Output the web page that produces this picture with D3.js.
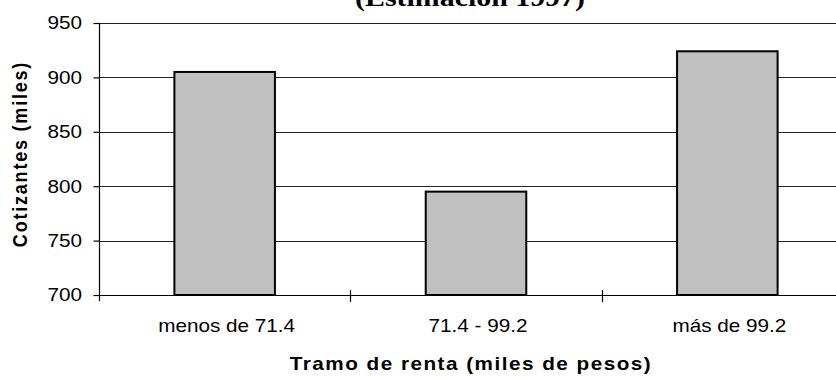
<!DOCTYPE html>
<html>
<head>
<meta charset="utf-8">
<script src="https://cdn.jsdelivr.net/npm/d3@7"></script>
<style>
  html, body { margin: 0; padding: 0; background: #fff; }
  svg { display: block; }
</style>
</head>
<body>
<svg id="chart" width="836" height="377"></svg>
<script>
// Cotizantes por tramo de renta
const categories = ["menos de 71.4", "71.4 - 99.2", "más de 99.2"];
const values = [905, 795, 924];
const yTicks = [700, 750, 800, 850, 900, 950];
const titleText = "(Estimación 1997)";
const yTitle = "Cotizantes (miles)";
const xTitle = "Tramo de renta (miles de pesos)";

const svg = d3.select("#chart");
const W = 836, H = 377;
const plotLeft = 99, plotRight = 853, plotTop = 23, plotBottom = 295;
const stretch = 1.15;

const x = d3.scaleBand().domain(categories).range([plotLeft, plotRight])
  .paddingInner(0.6).paddingOuter(0.3);
const y = d3.scaleLinear().domain([700, 950]).range([plotBottom, plotTop]);
const edges = d3.scaleLinear().domain([0, categories.length]).range([plotLeft, plotRight]);

// horizontal gridlines
svg.append("g")
  .selectAll("line")
  .data(yTicks.slice(1))
  .join("line")
  .attr("x1", plotLeft).attr("x2", W + 20)
  .attr("y1", d => Math.round(y(d)) + 0.5)
  .attr("y2", d => Math.round(y(d)) + 0.5)
  .attr("stroke", "#222")
  .attr("stroke-width", 1.2);

// bars
svg.append("g")
  .selectAll("rect")
  .data(values)
  .join("rect")
  .attr("x", (d, i) => x(categories[i]))
  .attr("width", x.bandwidth())
  .attr("y", d => y(d))
  .attr("height", d => y(700) - y(d))
  .attr("fill", "#c0c0c0")
  .attr("stroke", "#000")
  .attr("stroke-width", 2);

// y axis
const yAxis = svg.append("g")
  .attr("transform", `translate(${plotLeft + 0.5},0)`)
  .call(d3.axisLeft(y).tickValues(yTicks).tickSize(6).tickFormat(d3.format("d")));
yAxis.select(".domain").remove();
yAxis.selectAll(".tick line").attr("stroke", "#000").attr("stroke-width", 1.2);
yAxis.selectAll(".tick text").remove();
yAxis.append("line")
  .attr("x1", 0).attr("x2", 0).attr("y1", plotTop).attr("y2", plotBottom + 6)
  .attr("stroke", "#000").attr("stroke-width", 1.2);

// y tick labels (stretched horizontally)
svg.append("g")
  .selectAll("text")
  .data(yTicks)
  .join("text")
  .attr("transform", d => `translate(82,${y(d)}) scale(${stretch},1)`)
  .attr("dy", "0.35em")
  .attr("text-anchor", "end")
  .attr("font-family", "Arial, 'Liberation Sans', sans-serif")
  .attr("font-size", 18)
  .attr("fill", "#000")
  .text(d => d);

// x axis line and crossing ticks at category edges
svg.append("line")
  .attr("x1", plotLeft).attr("x2", W + 20)
  .attr("y1", plotBottom + 0.5).attr("y2", plotBottom + 0.5)
  .attr("stroke", "#000").attr("stroke-width", 1.2);
svg.append("g")
  .selectAll("line")
  .data(d3.range(1, categories.length + 1))
  .join("line")
  .attr("x1", d => Math.round(edges(d)) + 0.5)
  .attr("x2", d => Math.round(edges(d)) + 0.5)
  .attr("y1", plotBottom - 5).attr("y2", plotBottom + 7)
  .attr("stroke", "#000").attr("stroke-width", 1.2);

// category labels
svg.append("g")
  .selectAll("text")
  .data(categories)
  .join("text")
  .attr("transform", d => `translate(${x(d) + x.bandwidth() / 2 + 2},332) scale(${stretch},1)`)
  .attr("text-anchor", "middle")
  .attr("font-family", "Arial, 'Liberation Sans', sans-serif")
  .attr("font-size", 18)
  .attr("fill", "#000")
  .text(d => d);

// axis titles
svg.append("text")
  .attr("transform", `translate(471,370) scale(${stretch},1)`)
  .attr("text-anchor", "middle")
  .attr("font-family", "Arial, 'Liberation Sans', sans-serif")
  .attr("font-weight", "bold")
  .attr("font-size", 18)
  .attr("letter-spacing", 1.3)
  .attr("fill", "#000")
  .text(xTitle);

svg.append("text")
  .attr("transform", `translate(27,154) scale(${stretch},1) rotate(-90)`)
  .attr("text-anchor", "middle")
  .attr("font-family", "Arial, 'Liberation Sans', sans-serif")
  .attr("font-weight", "bold")
  .attr("font-size", 18)
  .attr("letter-spacing", 1.8)
  .attr("fill", "#000")
  .text(yTitle);

// chart title (partly above the visible area)
svg.append("text")
  .attr("transform", `translate(470,6) scale(${stretch},1)`)
  .attr("text-anchor", "middle")
  .attr("font-family", "'Times New Roman', 'Liberation Serif', serif")
  .attr("font-weight", "bold")
  .attr("font-size", 26)
  .attr("fill", "#000")
  .text(titleText);
</script>
</body>
</html>
